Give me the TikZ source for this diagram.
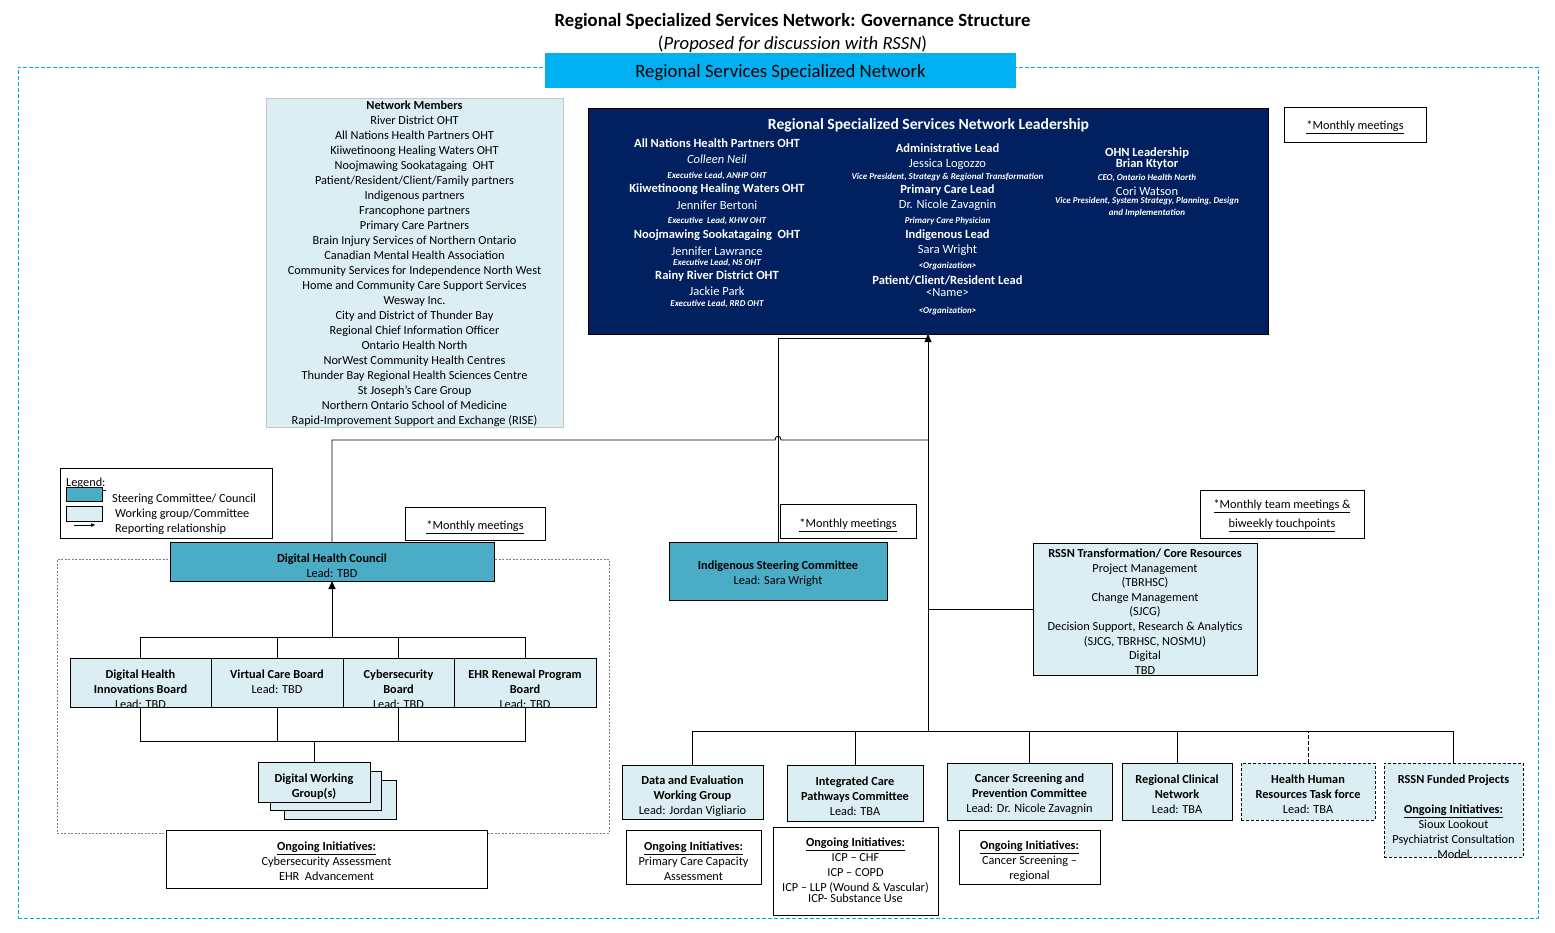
\documentclass[tikz,border=0pt]{standalone}
\usepackage{fontspec}
\setmainfont{Carlito}
\usetikzlibrary{arrows.meta}
\definecolor{hdrblue}{HTML}{00B0F0}
\definecolor{navyblue}{HTML}{002060}
\definecolor{steerfill}{HTML}{4BACC6}
\definecolor{workfill}{HTML}{DAEEF3}
\newcommand{\fsz}[1]{\fontsize{#1}{15}\selectfont}
\newcommand{\LB}{\fontsize{12.5}{15}\selectfont\bfseries}
\newcommand{\LN}{\fontsize{12.5}{15}\selectfont}
\newcommand{\LI}{\fontsize{12.5}{15}\selectfont\itshape}
\newcommand{\LS}{\fontsize{9}{11}\selectfont\bfseries\itshape}
\newcommand{\mybox}[6]{\node[#1, anchor=north west, minimum width={(#4)-(#2)}, minimum height={(#5)-(#3)}] (#6) at (#2,#3) {};}
\begin{document}
\begin{tikzpicture}[x=1pt,y=-1pt,
  bx/.style={draw=black, line width=1pt, inner sep=0pt, outer sep=0pt},
  steerbox/.style={bx, fill=steerfill},
  workbox/.style={bx, fill=workfill},
  notebox/.style={bx, fill=white},
  dworkbox/.style={workbox, dash pattern=on 3pt off 2pt},
  txt/.style={align=center, inner sep=0pt, font=\fsz{12.3}, yshift=-1.5pt},
  conn/.style={draw=black, line width=0.9pt},
  upar/.style={-{Triangle[length=8pt,width=7pt]}},
  lline/.style={inner sep=0pt, text=white},
]
\useasboundingbox (0,0) rectangle (1555,932);
\fill[white] (0,0) rectangle (1555,932);

% titles
\node[font=\fontsize{18.67}{22}\selectfont\bfseries, inner sep=0pt] (title) at (792.5,22) {Regional Specialized Services Network: Governance Structure};
\node[font=\fontsize{18.67}{22}\selectfont, inner sep=0pt] (subtitle) at (792.5,44) {(\textit{Proposed for discussion with RSSN})};

% outer frame and header
\mybox{bx, draw=hdrblue, line width=0.8pt, dash pattern=on 4pt off 2pt}{18}{67}{1538}{918}{outer}
\mybox{bx, draw=none, fill=hdrblue}{545}{53}{1016}{88}{hdr}
\node[font=\fontsize{18.8}{22}\selectfont, inner sep=0pt] (hdrtext) at (780.5,72.5) {Regional Services Specialized Network};

% network members
\mybox{bx, draw=gray!45, line width=0.5pt, fill=workfill}{266}{98}{563}{427}{members}
\node[txt] (memberstext) at (414.5,262) {\textbf{Network Members}\\River District OHT\\All Nations Health Partners OHT\\Kiiwetinoong Healing Waters OHT\\Noojmawing Sookatagaing\ \ OHT\\Patient/Resident/Client/Family partners\\Indigenous partners\\Francophone partners\\Primary Care Partners\\Brain Injury Services of Northern Ontario\\Canadian Mental Health Association\\Community Services for Independence North West\\Home and Community Care Support Services\\Wesway Inc.\\City and District of Thunder Bay\\Regional Chief Information Officer\\Ontario Health North\\NorWest Community Health Centres\\Thunder Bay Regional Health Sciences Centre\\St Joseph’s Care Group\\Northern Ontario School of Medicine\\Rapid-Improvement Support and Exchange (RISE)};

% leadership
\mybox{bx, fill=navyblue}{588}{108}{1268}{334}{lead}
\node[font=\fontsize{15.6}{18}\selectfont\bfseries, text=white, inner sep=0pt] (leadtitle) at (928.5,125) {Regional Specialized Services Network Leadership};
\foreach \lyy/\lfn/\ltx [count=\ii] in {143.5/\LB/{All Nations Health Partners OHT},159/\LI/{Colleen Neil},176/\LS/{Executive Lead, ANHP OHT},189.5/\LB/{Kiiwetinoong Healing Waters OHT},205/\LN/{Jennifer Bertoni},221/\LS/{Executive\ \ Lead, KHW OHT},235.5/\LB/{Noojmawing Sookatagaing\ \ OHT},251/\LN/{Jennifer Lawrance},263/\LS/{Executive Lead, NS OHT},276.5/\LB/{Rainy River District OHT},291/\LN/{Jackie Park},304/\LS/{Executive Lead, RRD OHT}}
  \node[lline] (colA-\ii) at (717,\lyy) {\lfn \ltx};
\foreach \lyy/\lfn/\ltx [count=\ii] in {148.5/\LB/{Administrative Lead},164/\LN/{Jessica Logozzo},177/\LS/{Vice President, Strategy \& Regional Transformation},190.5/\LB/{Primary Care Lead},205/\LN/{Dr. Nicole Zavagnin},221/\LS/{Primary Care Physician},235.5/\LB/{Indigenous Lead},250/\LN/{Sara Wright},266/\LS/{<Organization>},280.5/\LB/{{Patient/Client/Resident Lead}},293/\LN/{<Name>},311/\LS/{<Organization>}}
  \node[lline] (colB-\ii) at (947.5,\lyy) {\lfn \ltx};
\foreach \lyy/\lfn/\ltx [count=\ii] in {153/\LB/{OHN Leadership},164.5/\LB/{Brian Ktytor},178/\LS/{CEO, Ontario Health North},191/\LN/{Cori Watson},201/\LS/{Vice President, System Strategy, Planning, Design},213/\LS/{and Implementation}}
  \node[lline] (colC-\ii) at (1147,\lyy) {\lfn \ltx};

\mybox{notebox}{1284}{107}{1426}{142}{mm1}
\node[txt] (mm1t) at (1355,126) {\underline{*Monthly meetings}};

% legend
\mybox{notebox}{60}{468}{272}{538}{legend}
\node[txt, anchor=west] (legendt) at (66,483) {\underline{Legend:}};
\mybox{steerbox}{66}{487}{102}{501}{sw1}
\mybox{workbox}{66}{506}{102}{521}{sw2}
\coordinate (la1) at (74,525);
\coordinate (la2) at (95,525);
\draw[conn, line width=0.6pt, -{Triangle[length=4pt,width=3.5pt]}] (la1) -- (la2);
\node[txt, anchor=west] (lg1) at (112,498) {Steering Committee/ Council};
\node[txt, anchor=west] (lg2) at (115,513) {Working group/Committee};
\node[txt, anchor=west] (lg3) at (115,528) {Reporting relationship};

% digital area
\mybox{bx, draw=gray, line width=0.5pt, dash pattern=on 2pt off 1.5pt}{57}{559}{609}{833}{dgroup}
\mybox{steerbox}{170}{542}{494}{581}{dhc}
\node[txt] (dhct) at (332,564.5) {\textbf{Digital Health Council}\\Lead: TBD};
\mybox{notebox}{405}{507}{545}{540}{mm2}
\node[txt] (mm2t) at (475,526) {\underline{*Monthly meetings}};

\mybox{workbox}{70}{658}{211}{707}{dhib}
\mybox{workbox}{211}{658}{343}{707}{vcb}
\mybox{workbox}{343}{658}{454}{707}{cyb}
\mybox{workbox}{454}{658}{596}{707}{ehr}
\node[txt] (dhibt) at (140.5,688) {\textbf{Digital Health}\\\textbf{Innovations Board}\\Lead: TBD};
\node[txt] (vcbt) at (277,680.5) {\textbf{Virtual Care Board}\\Lead: TBD};
\node[txt] (cybt) at (398.5,688) {\textbf{Cybersecurity}\\\textbf{Board}\\Lead: TBD};
\node[txt] (ehrt) at (525,688) {\textbf{EHR Renewal Program}\\\textbf{Board}\\Lead: TBD};

\coordinate (dbusT) at (333,637);
\coordinate (dbusB) at (333,741);
\draw[conn, upar] (dhc.south |- dbusT) -- (dhc.south);
\draw[conn] (dhib.north) -- (dhib.north |- dbusT) -- (ehr.north |- dbusT) -- (ehr.north);
\draw[conn] (vcb.north) -- (vcb.north |- dbusT);
\draw[conn] (cyb.north) -- (cyb.north |- dbusT);
\draw[conn] (dhib.south) -- (dhib.south |- dbusB) -- (ehr.south |- dbusB) -- (ehr.south);
\draw[conn] (vcb.south) -- (vcb.south |- dbusB);
\draw[conn] (cyb.south) -- (cyb.south |- dbusB);

\mybox{workbox}{284}{780}{396}{819}{dwg3}
\mybox{workbox}{270}{771}{381}{810}{dwg2}
\mybox{workbox}{258}{762}{370}{802}{dwg1}
\node[txt] (dwgt) at (314,785) {\textbf{Digital Working}\\\textbf{Group(s)}};
\draw[conn] (dwg1.north |- dbusB) -- (dwg1.north);

\mybox{notebox}{166}{830}{487}{888}{dog}
\node[txt] (dogt) at (326.5,860) {\textbf{\underline{Ongoing Initiatives:}}\\Cybersecurity Assessment\\EHR\ \ Advancement};

% indigenous
\mybox{steerbox}{669}{542}{887}{600}{isc}
\node[txt] (isct) at (778,572.5) {\textbf{Indigenous Steering Committee}\\Lead: Sara Wright};
\mybox{notebox}{780}{504}{916}{538}{mm3}
\node[txt] (mm3t) at (848,524) {\underline{*Monthly meetings}};

% transformation
\mybox{workbox}{1033}{543}{1257}{675}{rt}
\node[txt, font=\fontsize{12.3}{14.6}\selectfont] (rtt) at (1145,610) {\textbf{RSSN Transformation/ Core Resources}\\Project Management\\(TBRHSC)\\Change Management\\(SJCG)\\Decision Support, Research \& Analytics\\(SJCG, TBRHSC, NOSMU)\\Digital\\TBD};
\mybox{notebox}{1200}{490}{1364}{538}{mm4}
\node[txt] (mm4t) at (1282,514.5) {\underline{*Monthly team meetings \&}\\[4pt]\underline{biweekly touchpoints}};

% bottom committees
\mybox{workbox}{622}{765}{763}{819}{de}
\node[txt] (det) at (692.5,795) {\textbf{Data and Evaluation}\\\textbf{Working Group}\\Lead: Jordan Vigliario};
\mybox{notebox}{626}{830}{761}{884}{deo}
\node[txt] (deot) at (693.5,860) {\textbf{\underline{Ongoing Initiatives:}}\\Primary Care Capacity\\Assessment};
\mybox{workbox}{787}{765}{923}{821}{icp}
\node[txt] (icpt) at (855,795) {\textbf{Integrated Care}\\\textbf{Pathways Committee}\\Lead: TBA};
\mybox{notebox}{773}{827}{938}{915}{icpo}
\node[txt] (icpot) at (855.5,869) {\textbf{\underline{Ongoing Initiatives:}}\\ICP – CHF\\ICP – COPD\\ICP – LLP (Wound \& Vascular)\\[-4pt]ICP- Substance Use};
\mybox{workbox}{947}{763}{1112}{820}{csp}
\node[txt] (cspt) at (1029.5,793) {\textbf{Cancer Screening and}\\\textbf{Prevention Committee}\\Lead: Dr. Nicole Zavagnin};
\mybox{notebox}{959}{830}{1100}{884}{cspo}
\node[txt] (cspot) at (1029.5,860) {\textbf{\underline{Ongoing Initiatives:}}\\Cancer Screening –\\regional};
\mybox{workbox}{1122}{763}{1232}{820}{rcn}
\node[txt] (rcnt) at (1177,793) {\textbf{Regional Clinical}\\\textbf{Network}\\Lead: TBA};
\mybox{dworkbox}{1241}{763}{1375}{820}{hhr}
\node[txt] (hhrt) at (1308,793) {\textbf{Health Human}\\\textbf{Resources Task force}\\Lead: TBA};
\mybox{dworkbox}{1384}{763}{1523}{857}{rf}
\node[txt] (rft) at (1453.5,815.5) {\textbf{RSSN Funded Projects}\\[15pt]\textbf{\underline{Ongoing Initiatives:}}\\Sioux Lookout\\Psychiatrist Consultation\\Model};

% main connectors
\coordinate (mainx) at (928,731);
\coordinate (j1) at (778,338);
\coordinate (hop) at (778,440);
\draw[conn, upar] (mainx) -- (mainx |- lead.south);
\draw[conn] (isc.north) -- (j1) -- (j1 -| mainx);
\draw[conn] (dhc.north) -- (dhc.north |- hop) -- ([xshift=-3pt]hop) .. controls ([xshift=-3pt,yshift=5pt]hop) and ([xshift=3pt,yshift=5pt]hop) .. ([xshift=3pt]hop) -- (hop -| mainx);
\draw[conn] (rt.west) -- (rt.west -| mainx);
\draw[conn] (de.north) -- (de.north |- mainx) -- (rf.north |- mainx) -- (rf.north);
\draw[conn] (icp.north) -- (icp.north |- mainx);
\draw[conn] (csp.north) -- (csp.north |- mainx);
\draw[conn] (rcn.north) -- (rcn.north |- mainx);
\draw[conn, dash pattern=on 4pt off 2pt] (hhr.north) -- (hhr.north |- mainx);
\end{tikzpicture}
\end{document}
